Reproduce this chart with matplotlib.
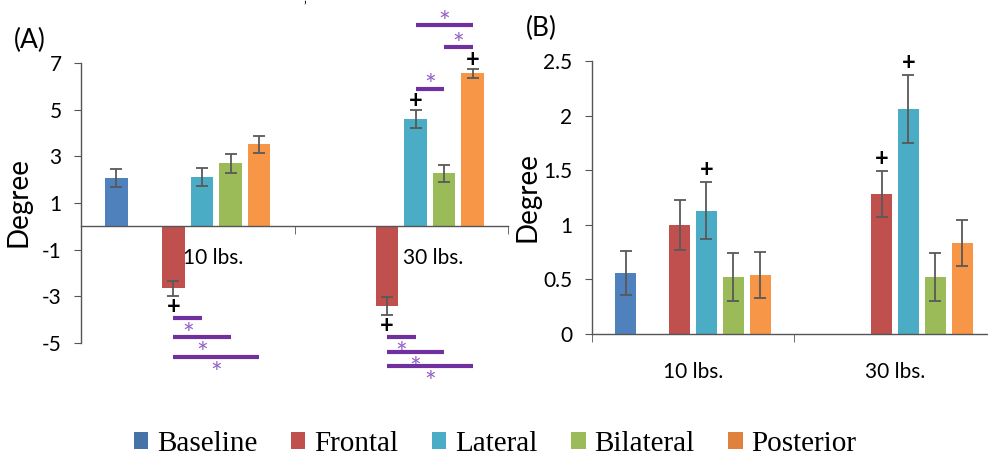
import matplotlib
matplotlib.use("Agg")
import matplotlib.pyplot as plt
from matplotlib.patches import Patch
import numpy as np

plt.rcParams['font.family'] = ['Lato', 'DejaVu Sans']
plt.rcParams['axes.unicode_minus'] = False

loads = ["10 lbs.", "30 lbs."]
series = ["Baseline", "Frontal", "Lateral", "Bilateral", "Posterior"]
colors = ["#4F81BD", "#C0504D", "#4BACC6", "#9BBB59", "#F79646"]
legend_colors = ["#4572A7", "#C0504D", "#4BACC6", "#9BBB59", "#E0823D"]

# (A) mean angle per posture, 10 lbs / 30 lbs
a_baseline = [2.08, np.nan]
a_frontal = [-2.66, -3.43]
a_lateral = [2.12, 4.59]
a_bilateral = [2.70, 2.28]
a_posterior = [3.52, 6.56]
a_baseline_err = [0.38, np.nan]
a_frontal_err = [0.32, 0.39]
a_lateral_err = [0.38, 0.39]
a_bilateral_err = [0.40, 0.37]
a_posterior_err = [0.37, 0.20]

# (B)
b_baseline = [0.56, np.nan]
b_frontal = [1.00, 1.28]
b_lateral = [1.13, 2.06]
b_bilateral = [0.52, 0.52]
b_posterior = [0.54, 0.83]
b_baseline_err = [0.20, np.nan]
b_frontal_err = [0.23, 0.21]
b_lateral_err = [0.26, 0.31]
b_bilateral_err = [0.22, 0.22]
b_posterior_err = [0.21, 0.21]

# "+" marks: (load index, series index)
a_plus = [(0, 1), (1, 1), (1, 2), (1, 4)]
b_plus = [(0, 2), (1, 1), (1, 2)]

# "*" brackets in (A): (load index, from series, to series)
a_sig = [(0, 1, 2), (0, 1, 3), (0, 1, 4),
         (1, 1, 2), (1, 1, 3), (1, 1, 4),
         (1, 2, 3), (1, 3, 4), (1, 2, 4)]
a_sig_y = [-3.94, -4.76, -5.61, -4.76, -5.40, -6.00, 5.87, 7.67, 8.61]

slots = [0, 2, 3, 4, 5]   # slot 1 left empty in each group
slot_w = 0.1335
bar_w = 0.105


def xpos(load, s):
    return load + 0.5 + (slots[s] - 2.5) * slot_w


def draw_bars(ax, means, errs):
    for s in range(len(series)):
        x = [xpos(i, s) for i in range(len(loads))]
        ax.bar(x, means[s], width=bar_w, color=colors[s], zorder=2)
        ax.errorbar(x, means[s], yerr=errs[s], fmt='none', ecolor='#595959',
                    elinewidth=1.3, capsize=4, capthick=1.3, zorder=3)


def style_axes(ax):
    for side in ['top', 'right']:
        ax.spines[side].set_visible(False)
    for side in ['left', 'bottom']:
        ax.spines[side].set_color('#555555')
        ax.spines[side].set_linewidth(1.0)
    ax.set_xlim(0, 2)
    ax.set_xticks([0, 1, 2], minor=True)
    ax.tick_params(axis='x', which='minor', length=6, direction='out', color='#555555')
    ax.tick_params(axis='y', length=5, direction='out', color='#555555', labelsize=15, pad=9)


fig = plt.figure(figsize=(9.88, 4.59), dpi=100)

# ---- (A)
axA = fig.add_axes([81 / 988, 1 - 343 / 459, 427 / 988, 280 / 459])
a_means = [a_baseline, a_frontal, a_lateral, a_bilateral, a_posterior]
a_errs = [a_baseline_err, a_frontal_err, a_lateral_err, a_bilateral_err, a_posterior_err]
draw_bars(axA, a_means, a_errs)
style_axes(axA)
axA.set_ylim(-5, 7)
axA.set_yticks([-5, -3, -1, 1, 3, 5, 7])
axA.spines['bottom'].set_position(('data', 0))
axA.set_xticks([])
axA.text(0.62, -1.37, loads[0], fontsize=15, ha='center', va='center')
axA.text(1.65, -1.37, loads[1], fontsize=15, ha='center', va='center')

for (i, s) in a_plus:
    m, e = a_means[s][i], a_errs[s][i]
    y = m + e + 0.4 if m > 0 else m - e - 0.45
    axA.text(xpos(i, s), y, "+", fontsize=17, fontweight='bold', ha='center',
             va='center', clip_on=False, zorder=4)

for (i, s0, s1), y in zip(a_sig, a_sig_y):
    x0, x1 = xpos(i, s0), xpos(i, s1)
    axA.plot([x0, x1], [y, y], color='#7030A0', lw=3, clip_on=False,
             solid_capstyle='butt', zorder=4)
    dy = -0.75 if y < 0 else 0.08
    axA.text((x0 + x1) / 2, y + dy, "*", fontsize=20, color='#9562C8',
             ha='center', va='center', clip_on=False)

# ---- (B)
axB = fig.add_axes([592 / 988, 1 - 334 / 459, 404 / 988, 273 / 459])
b_means = [b_baseline, b_frontal, b_lateral, b_bilateral, b_posterior]
b_errs = [b_baseline_err, b_frontal_err, b_lateral_err, b_bilateral_err, b_posterior_err]
draw_bars(axB, b_means, b_errs)
style_axes(axB)
axB.set_ylim(0, 2.5)
axB.set_yticks([0, 0.5, 1, 1.5, 2, 2.5])
axB.set_yticklabels(["0", "0.5", "1", "1.5", "2", "2.5"])
axB.set_xticks([0.5, 1.5])
axB.set_xticklabels(loads)
axB.tick_params(axis='x', which='major', length=0, labelsize=15, pad=20)

for (i, s) in b_plus:
    axB.text(xpos(i, s), b_means[s][i] + b_errs[s][i] + 0.12, "+", fontsize=17,
             fontweight='bold', ha='center', va='center', clip_on=False, zorder=4)

# labels
fig.text(30 / 988, 1 - 40 / 459, "(A)", fontsize=19, ha='center', va='center')
fig.text(541 / 988, 1 - 28 / 459, "(B)", fontsize=19, ha='center', va='center')
fig.text(18 / 988, 1 - 202 / 459, "Degree", fontsize=20, rotation=90,
         ha='center', va='center')
fig.text(527 / 988, 1 - 197 / 459, "Degree", fontsize=20, rotation=90,
         ha='center', va='center')
fig.text(305 / 988, 1 - 6 / 459, "\u02bc", fontsize=9, ha='center', va='center')

handles = [Patch(facecolor=c, edgecolor='none') for c in legend_colors]
fig.legend(handles, series, loc='center', bbox_to_anchor=(495 / 988, 1 - 444 / 459),
           ncol=5, frameon=False, handlelength=0.5, handleheight=0.5,
           handletextpad=0.3, columnspacing=1.15, borderpad=0.2,
           prop={'family': 'Liberation Serif', 'size': 21})

fig.savefig("out.png", dpi=100)
